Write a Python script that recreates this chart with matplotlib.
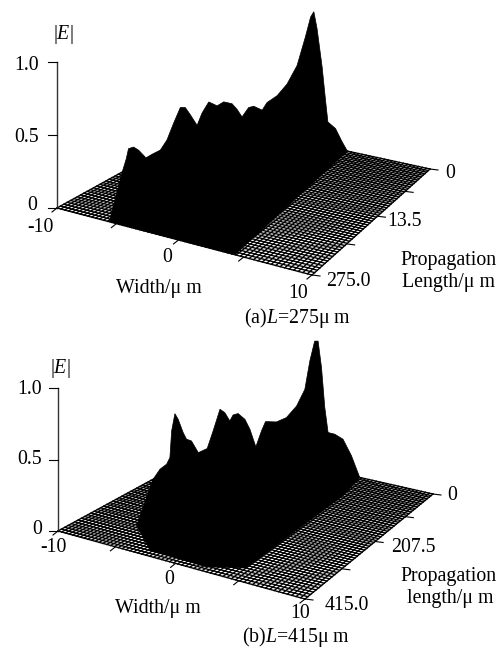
import numpy as np
import matplotlib
matplotlib.use("Agg")
import matplotlib.pyplot as plt

plt.rcParams["font.family"] = ["Liberation Serif", "DejaVu Serif"]
plt.rcParams["mathtext.fontset"] = "custom"
plt.rcParams["mathtext.rm"] = "Liberation Serif"
plt.rcParams["mathtext.it"] = "Liberation Serif:italic"

# silhouette of the field, read along a straight line on the floor
ridge_w_a = [-10, -9.76, -9.63, -9.33, -9.03, -8.6, -8.25, -7.75, -7.36, -6.97, -6.57, -6.28, -5.98,
             -5.58, -5.29, -4.89, -4.4, -4.01, -3.52, -3.22, -2.93, -2.54, -2.24, -1.74, -1.45,
             -0.86, -0.27, 0.32, 0.81, 1.12, 1.31, 1.5, 1.8, 2.0, 2.14, 2.59, 2.98, 3.29]
ridge_e_a = [0, 0.089, 0.156, 0.164, 0.139, 0.082, 0.102, 0.126, 0.191, 0.301, 0.405, 0.402, 0.349,
             0.272, 0.353, 0.425, 0.393, 0.416, 0.398, 0.356, 0.301, 0.361, 0.367, 0.335, 0.384,
             0.424, 0.498, 0.618, 0.808, 0.942, 0.976, 0.858, 0.592, 0.362, 0.212, 0.162, 0.067, 0]
ridge_w_b = [-10, -9.57, -9.14, -8.93, -8.82, -8.61, -8.4, -8.08, -7.87, -7.55, -7.11, -6.54, -6.16,
             -5.72, -5.41, -5.09, -4.88, -4.56, -4.12, -3.8, -3.42, -3.06, -2.8, -2.1, -1.46,
             -0.81, -0.28, 0.04, 0.35, 0.57, 0.79, 1.0, 1.21, 1.64, 2.17, 2.71, 3.24]
ridge_e_b = [0, 0.069, 0.104, 0.15, 0.336, 0.457, 0.417, 0.324, 0.278, 0.265, 0.183, 0.211, 0.334,
             0.485, 0.461, 0.403, 0.444, 0.454, 0.413, 0.343, 0.22, 0.331, 0.396, 0.393, 0.423,
             0.503, 0.619, 0.817, 0.956, 0.956, 0.769, 0.49, 0.316, 0.304, 0.268, 0.152, 0]

# footprint of the field on the floor, L as a fraction of the full length
foot_w_a = [-10, -5.58, 4.35, 2.74]
foot_l_a = [0.63, 1.0, 1.0, 0.0]
foot_w_b = [-10, -5.9, -2.7, 2.0, 4.4, 4.2, 3.6]
foot_l_b = [0.44, 0.82, 0.96, 0.97, 0.91, 0.2, 0.0]

e_ticks = [0, 0.5, 1.0]
width_ticks = [-10, -5, 0, 5, 10]
length_ticks = [0, 0.25, 0.5, 0.75, 1.0]


def make_projection(corners):
    # homography from (w, L fraction) on the floor to figure pixels
    src = [(0, 0), (1, 0), (1, 1), (0, 1)]
    A, b = [], []
    for (u, v), (x, y) in zip(src, corners):
        A.append([u, v, 1, 0, 0, 0, -u * x, -v * x])
        A.append([0, 0, 0, u, v, 1, -u * y, -v * y])
        b += [x, y]
    h = np.append(np.linalg.solve(np.array(A, float), np.array(b, float)), 1).reshape(3, 3)

    def project(w, frac):
        u = (np.asarray(w, float) + 10) / 20
        v = 1 - np.asarray(frac, float)
        d = h[2, 0] * u + h[2, 1] * v + h[2, 2]
        return (h[0, 0] * u + h[0, 1] * v + h[0, 2]) / d, (h[1, 0] * u + h[1, 1] * v + h[1, 2]) / d

    return project


def draw_panel(ax, corners, z_px, ridge_w, ridge_e, foot_w, foot_l, n_l, n_w):
    project = make_projection(corners)

    # floor mesh
    for frac in np.linspace(0, 1, n_l):
        x, y = project(np.array([-10, 10]), np.array([frac, frac]))
        ax.plot(x, y, color="black", lw=1.0, zorder=1)
    for w in np.linspace(-10, 10, n_w):
        x, y = project(np.array([w, w]), np.array([0, 1]))
        ax.plot(x, y, color="black", lw=1.0, zorder=1)

    # field: floor footprint closed by the ridge line
    fx, fy = project(foot_w, foot_l)
    ridge_w = np.array(ridge_w, float)
    t = (ridge_w - ridge_w[0]) / (ridge_w[-1] - ridge_w[0])
    rx = fx[0] + (fx[-1] - fx[0]) * t
    ry = fy[0] + (fy[-1] - fy[0]) * t - np.array(ridge_e) * z_px
    ax.fill(np.r_[rx, fx[::-1]], np.r_[ry, fy[::-1]], color="black", lw=0.5, zorder=2)

    # axes
    ox, oy = corners[0]
    ax.plot([ox, ox], [oy, oy - z_px], color="#333333", lw=1.0, zorder=3)
    for e in e_ticks:
        ax.plot([ox - 9, ox], [oy - e * z_px] * 2, color="black", lw=0.8, zorder=3)
    for w in width_ticks:
        x, y = project(w, 1)
        ax.plot([x - 5, x], [y + 4, y], color="black", lw=0.8, zorder=3)
    for frac in length_ticks:
        x, y = project(10, frac)
        ax.plot([x, x + 8], [y, y + 1], color="black", lw=0.8, zorder=3)


fig = plt.figure(figsize=(5.04, 6.48), dpi=100)
ax = fig.add_axes([0, 0, 1, 1])
ax.set_xlim(0, 504)
ax.set_ylim(648, 0)
ax.axis("off")

draw_panel(ax, [(57, 208), (312, 275), (430, 169), (213, 122)], 146,
           ridge_w_a, ridge_e_a, foot_w_a, foot_l_a, 56, 62)
draw_panel(ax, [(58, 531), (305, 599), (433, 494), (216, 445)], 143,
           ridge_w_b, ridge_e_b, foot_w_b, foot_l_b, 56, 62)

labels = [
    (63, 34, "|$E$|"), (27, 65, "1.0"), (27, 137, "0.5"), (32, 206, "0"), (40, 228, "-10"),
    (167, 258, "0"), (298, 293, "10"), (450, 173, "0"), (405, 222, "13.5"), (348, 282, "275.0"),
    (159, 288, "Width/\u03bc m"), (448, 260, "Propagation"), (448, 282, "Length/\u03bc m"),
    (297, 318, "(a)$L$=275\u03bc m"),
    (60, 368, "|$E$|"), (30, 389, "1.0"), (30, 459, "0.5"), (37, 529, "0"), (53, 548, "-10"),
    (169, 579, "0"), (300, 613, "10"), (452, 496, "0"), (413, 547, "207.5"), (347, 605, "415.0"),
    (158, 609, "Width/\u03bc m"), (448, 577, "Propagation"), (450, 599, "length/\u03bc m"),
    (296, 637, "(b)$L$=415\u03bc m"),
]
for x, y, s in labels:
    ax.text(x, y, s, ha="center", va="center", fontsize=14.3, color="black")

fig.savefig("out.png", dpi=100)
